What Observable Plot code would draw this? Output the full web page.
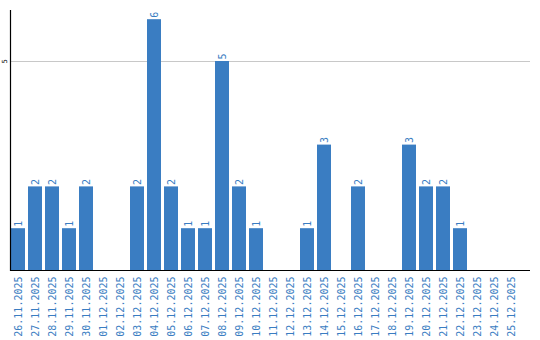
<!DOCTYPE html>
<html><head><meta charset="utf-8">
<script src="https://cdn.jsdelivr.net/npm/d3@7"></script>
<script src="https://cdn.jsdelivr.net/npm/@observablehq/plot@0.6"></script>
<style>body{margin:0;background:#fff}</style>
</head><body><div id="chart"></div>
<script>
const dates = ["26.11.2025","27.11.2025","28.11.2025","29.11.2025","30.11.2025","01.12.2025","02.12.2025","03.12.2025","04.12.2025","05.12.2025","06.12.2025","07.12.2025","08.12.2025","09.12.2025","10.12.2025","11.12.2025","12.12.2025","13.12.2025","14.12.2025","15.12.2025","16.12.2025","17.12.2025","18.12.2025","19.12.2025","20.12.2025","21.12.2025","22.12.2025","23.12.2025","24.12.2025","25.12.2025"];
const counts = [1,2,2,1,2,0,0,2,6,2,1,1,5,2,1,0,0,1,3,0,2,0,0,3,2,2,1,0,0,0];
const yTicks = [5];
const data = dates.map((d,i)=>({date:d, count:counts[i]}));
const blue = "#3a7dc2";
const chart = Plot.plot({
  width:540, height:340,
  marginLeft:10, marginRight:10, marginTop:10, marginBottom:70,
  style:{fontFamily:"DejaVu Sans Mono", fontSize:"10px", background:"#fff"},
  x:{domain:dates, range:[10.7, 518], paddingInner:0.16, paddingOuter:0, label:null},
  y:{domain:[0,6.22], label:null, ticks:yTicks},
  marks:[
    Plot.gridY(yTicks,{stroke:"#c8c8c8", strokeOpacity:1, strokeWidth:1}),
    Plot.barY(data,{x:"date", y:"count", fill:blue}),
    Plot.text(data.filter(d=>d.count>0),{x:"date", y:"count", text:d=>String(d.count), rotate:-90, textAnchor:"start", dy:-2, fill:blue, fontSize:10, fontFamily:"DejaVu Sans Mono"}),
    Plot.axisX({tickSize:0, tickPadding:6, tickRotate:-90, fill:blue, fontSize:10, fontFamily:"DejaVu Sans Mono"}),
    Plot.axisY(yTicks,{tickSize:0, tickPadding:2, tickRotate:-90, fontSize:7, fill:"#000", textAnchor:"middle", dx:-2}),
    Plot.ruleY([0],{stroke:"#000", strokeWidth:1.2}),
    Plot.frame({anchor:"left", stroke:"#000", strokeWidth:1.2})
  ]
});
document.getElementById("chart").append(chart);
</script></body></html>
